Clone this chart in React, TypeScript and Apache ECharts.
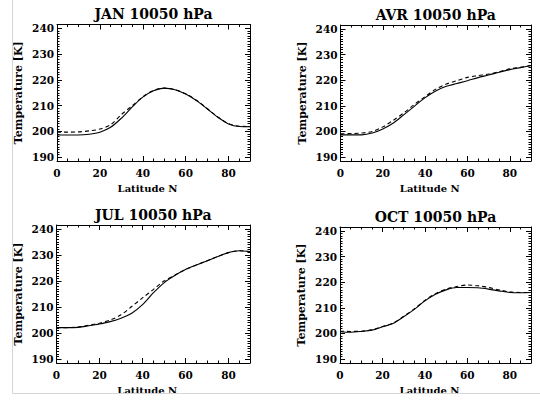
import { useEffect, useRef } from "react";
import * as echarts from "echarts";

// Zonal-mean temperature at 10050 hPa versus northern latitude, one panel per month.
const latitudes = [0, 5, 10, 15, 20, 25, 30, 35, 40, 45, 50, 55, 60, 65, 70, 75, 80, 85, 90];

const janSolid = [198.6, 198.6, 198.6, 198.9, 199.7, 201.6, 205.1, 209.4, 213.3, 215.8, 216.8, 216.2, 214.5, 212.0, 208.8, 205.5, 202.9, 201.9, 201.8];
const janDashed = [199.7, 199.7, 199.8, 200.2, 200.9, 202.6, 206.5, 209.9, 213.4, 215.9, 216.8, 216.2, 214.6, 212.1, 208.9, 205.6, 203.0, 202.0, 201.9];

const avrSolid = [198.7, 198.7, 198.7, 199.4, 201.0, 203.3, 206.6, 209.9, 213.2, 215.8, 217.6, 218.7, 219.8, 221.0, 222.0, 223.1, 224.1, 224.9, 225.7];
const avrDashed = [199.1, 199.2, 199.4, 200.0, 201.8, 204.4, 207.3, 210.6, 213.6, 216.5, 218.5, 219.8, 221.1, 221.8, 222.4, 223.3, 224.4, 225.0, 225.7];

const julSolid = [202.1, 202.1, 202.2, 202.8, 203.5, 204.4, 205.7, 207.6, 210.9, 215.4, 219.3, 222.1, 224.4, 226.1, 227.7, 229.4, 230.9, 231.6, 231.3];
const julDashed = [202.1, 202.1, 202.3, 203.0, 203.8, 205.0, 207.0, 210.2, 213.5, 216.7, 220.0, 222.2, 224.4, 226.1, 227.8, 229.4, 230.9, 231.6, 231.3];

const octSolid = [200.7, 200.5, 200.8, 201.3, 202.6, 203.9, 206.5, 209.4, 212.7, 215.3, 217.0, 217.9, 217.9, 217.8, 217.3, 216.6, 216.0, 215.9, 216.0];
const octDashed = [200.9, 200.8, 200.9, 201.4, 202.7, 204.1, 206.7, 209.6, 212.9, 215.5, 217.3, 218.3, 218.9, 218.6, 217.9, 217.0, 216.2, 216.0, 216.0];

const titles = ["JAN 10050 hPa", "AVR 10050 hPa", "JUL 10050 hPa", "OCT 10050 hPa"];
const xName = "Latitude N";
const yName = "Temperature [K]";

// Frame range of the temperature axis and the labelled part of it.
const Y_MIN = 188.5;
const Y_MAX = 241.5;
const Y_TICK_MIN = 190;
const Y_TICK_MAX = 240;
const X_MIN = 0;
const X_MAX = 90;

const FONT = '"DejaVu Serif", serif';
const INK = "#000";

type Panel = {
  title: string;
  solid: number[];
  dashed: number[];
  left: number;
  top: number;
  right: number;
  bottom: number;
};

const panels: Panel[] = [
  { title: titles[0], solid: janSolid, dashed: janDashed, left: 57, top: 24.5, right: 250, bottom: 161 },
  { title: titles[1], solid: avrSolid, dashed: avrDashed, left: 340.5, top: 25, right: 531, bottom: 161 },
  { title: titles[2], solid: julSolid, dashed: julDashed, left: 56.5, top: 225, right: 250, bottom: 363 },
  { title: titles[3], solid: octSolid, dashed: octDashed, left: 340, top: 227, right: 531, bottom: 363 },
];

function buildOption() {
  const grid: any[] = [];
  const xAxis: any[] = [];
  const yAxis: any[] = [];
  const series: any[] = [];
  const graphic: any[] = [];

  const line = { color: INK, width: 1 };
  const tickLabel = { color: INK, fontFamily: FONT, fontWeight: "bold", fontSize: 10.5 };

  panels.forEach((p) => {
    const w = p.right - p.left;
    const h = p.bottom - p.top;
    const ppu = h / (Y_MAX - Y_MIN);

    // Outer frame grid: box outline and latitude ticks on top and bottom.
    const frameIdx = grid.length;
    grid.push({ left: p.left, top: p.top, width: w, height: h });
    // Inner grid spanning exactly 190..240 K: temperature ticks and the curves.
    const innerIdx = grid.length;
    grid.push({ left: p.left, top: p.top + (Y_MAX - Y_TICK_MAX) * ppu, width: w, height: (Y_TICK_MAX - Y_TICK_MIN) * ppu });

    const baseX = { type: "value", gridIndex: frameIdx, min: X_MIN, max: X_MAX, splitLine: { show: false } };
    xAxis.push({
      ...baseX,
      position: "bottom",
      interval: 20,
      axisLine: { show: true, onZero: false, lineStyle: line },
      axisTick: { show: true, inside: true, length: 5, lineStyle: line },
      axisLabel: { ...tickLabel, margin: 6, showMaxLabel: false },
    });
    xAxis.push({
      ...baseX,
      position: "bottom",
      interval: 5,
      axisLine: { show: false },
      axisTick: { show: true, inside: true, length: 2.5, lineStyle: line },
      axisLabel: { show: false },
    });
    xAxis.push({
      ...baseX,
      position: "top",
      interval: 20,
      axisLine: { show: true, onZero: false, lineStyle: line },
      axisTick: { show: true, inside: true, length: 5, lineStyle: line },
      axisLabel: { show: false },
    });
    xAxis.push({
      ...baseX,
      position: "top",
      interval: 5,
      axisLine: { show: false },
      axisTick: { show: true, inside: true, length: 2.5, lineStyle: line },
      axisLabel: { show: false },
    });
    const frameY = {
      type: "value",
      gridIndex: frameIdx,
      min: Y_MIN,
      max: Y_MAX,
      axisLine: { show: true, onZero: false, lineStyle: line },
      axisTick: { show: false },
      axisLabel: { show: false },
      splitLine: { show: false },
    };
    yAxis.push({ ...frameY, position: "left" });
    yAxis.push({ ...frameY, position: "right" });

    const seriesX = xAxis.length;
    xAxis.push({ type: "value", gridIndex: innerIdx, min: X_MIN, max: X_MAX, show: false });
    const innerY = {
      type: "value",
      gridIndex: innerIdx,
      min: Y_TICK_MIN,
      max: Y_TICK_MAX,
      interval: 10,
      axisLine: { show: false, onZero: false },
      axisTick: { show: true, inside: true, length: 5, lineStyle: line },
      minorTick: { show: true, splitNumber: 10, length: 2.5, lineStyle: line },
      splitLine: { show: false },
      minorSplitLine: { show: false },
    };
    const seriesY = yAxis.length;
    yAxis.push({ ...innerY, position: "left", axisLabel: { ...tickLabel, margin: 3 } });
    yAxis.push({ ...innerY, position: "right", axisLabel: { show: false } });

    const common = {
      type: "line",
      xAxisIndex: seriesX,
      yAxisIndex: seriesY,
      showSymbol: false,
      smooth: 0.3,
      silent: true,
    };
    series.push({
      ...common,
      name: p.title + " solid",
      data: latitudes.map((lat, k) => [lat, p.solid[k]]),
      lineStyle: { color: INK, width: 1.1, type: "solid" },
    });
    series.push({
      ...common,
      name: p.title + " dashed",
      data: latitudes.map((lat, k) => [lat, p.dashed[k]]),
      lineStyle: { color: INK, width: 1.1, type: [4, 3] },
    });

    const cx = (p.left + p.right) / 2;
    graphic.push({
      type: "text",
      x: cx,
      y: p.top - 10.5,
      style: { text: p.title, fill: INK, font: `bold 14px ${FONT}`, textAlign: "center", textVerticalAlign: "middle" },
    });
    graphic.push({
      type: "text",
      x: cx - 6,
      y: p.bottom + 27.5,
      style: { text: xName, fill: INK, font: `bold 10px ${FONT}`, textAlign: "center", textVerticalAlign: "middle" },
    });
    graphic.push({
      type: "text",
      x: p.left - 38.5,
      y: (p.top + p.bottom) / 2,
      rotation: Math.PI / 2,
      style: { text: yName, fill: INK, font: `bold 11px ${FONT}`, textAlign: "center", textVerticalAlign: "middle" },
    });
  });

  // Thin grey page border at the left and bottom.
  graphic.push({ type: "line", shape: { x1: 12.5, y1: 0, x2: 12.5, y2: 393.5 }, style: { stroke: "#d6d6d6", lineWidth: 1 } });
  graphic.push({ type: "line", shape: { x1: 12.5, y1: 393.5, x2: 540, y2: 393.5 }, style: { stroke: "#d6d6d6", lineWidth: 1 } });

  return {
    animation: false,
    backgroundColor: "#fff",
    grid,
    xAxis,
    yAxis,
    series,
    graphic,
  };
}

export default function App() {
  const ref = useRef<HTMLDivElement>(null);

  useEffect(() => {
    if (!ref.current) return;
    const chart = echarts.init(ref.current, undefined, { renderer: "svg" });
    chart.setOption(buildOption() as any);
    return () => chart.dispose();
  }, []);

  return <div ref={ref} style={{ position: "absolute", left: 0, top: 0, width: 540, height: 400 }} />;
}
